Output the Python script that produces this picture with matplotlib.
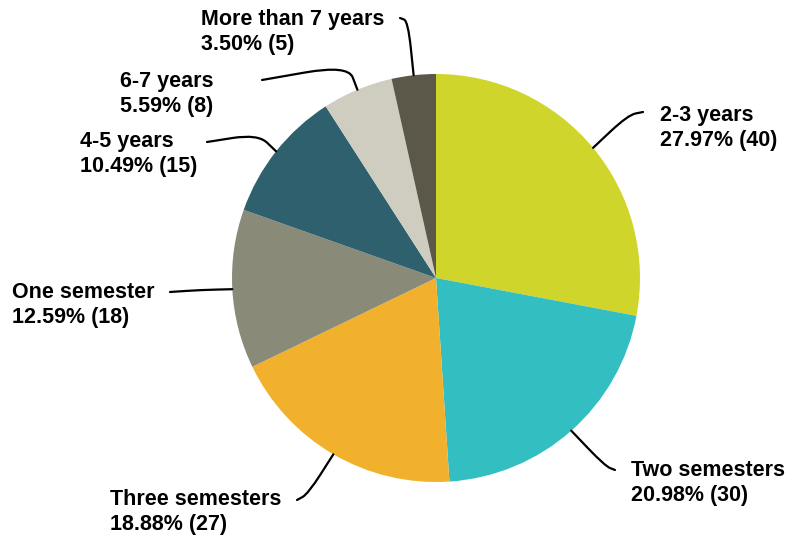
import numpy as np
import matplotlib.pyplot as plt
from matplotlib.path import Path
from matplotlib.patches import PathPatch

plt.rcParams["font.family"] = ["Liberation Sans", "DejaVu Sans"]

# Time spent, number of respondents per group
categories = ["2-3 years", "Two semesters", "Three semesters", "One semester",
              "4-5 years", "6-7 years", "More than 7 years"]
counts = [40, 30, 27, 18, 15, 8, 5]
colors = ["#cfd52a", "#33bec1", "#f2b12d", "#8a8a78",
          "#2f606d", "#cfcdbf", "#5b5849"]

W, H = 789, 542

# label layout in pixels from the top-left: text left x, text middle y,
# start of leader line, corner of leader line
label_xy = [(660, 128), (631, 483), (110, 512), (12, 305),
            (80, 154), (120, 94), (201, 32)]
leader_start = [(643, 112), (615, 470), (297, 500), (170, 292),
                (207, 142), (262, 80), (400, 18)]
leader_corner = [(628, 115), (605, 466), (308, 494), (200, 290),
                 (258, 134), (348, 65), (408, 21)]


def flip(p):
    return (p[0], H - p[1])


fig = plt.figure(figsize=(W / 100, H / 100), dpi=100)
ax = fig.add_axes([0, 0, 1, 1])

total = sum(counts)
wedges, _ = ax.pie(counts, colors=colors, startangle=90, counterclock=False,
                   radius=204, center=(436, H - 278),
                   wedgeprops=dict(linewidth=0))
ax.set_xlim(0, W)
ax.set_ylim(0, H)
ax.set_aspect("equal")
ax.axis("off")

for w, cat, n, txy, s, c in zip(wedges, categories, counts, label_xy,
                                leader_start, leader_corner):
    ang = np.deg2rad((w.theta1 + w.theta2) / 2)
    end = (w.center[0] + w.r * np.cos(ang), w.center[1] + w.r * np.sin(ang))
    p0, pc = np.array(flip(s)), np.array(flip(c))
    p3 = np.array(end)
    # straight run, rounded corner, straight run to the slice edge
    a = pc + (p0 - pc) * 0.5
    b = pc + (p3 - pc) * 0.5
    verts = [p0, a, pc, b, p3]
    codes = [Path.MOVETO, Path.LINETO, Path.CURVE3, Path.CURVE3, Path.LINETO]
    ax.add_patch(PathPatch(Path(verts, codes), fill=False, lw=1.6,
                           edgecolor="#000000", capstyle="round"))
    pct = n / total * 100
    ax.text(txy[0], H - txy[1], f"{cat}\n{pct:.2f}% ({n})", ha="left",
            va="center", fontsize=15.5, fontweight="bold", color="#000000",
            linespacing=1.2)

fig.savefig("out.png", dpi=100)
